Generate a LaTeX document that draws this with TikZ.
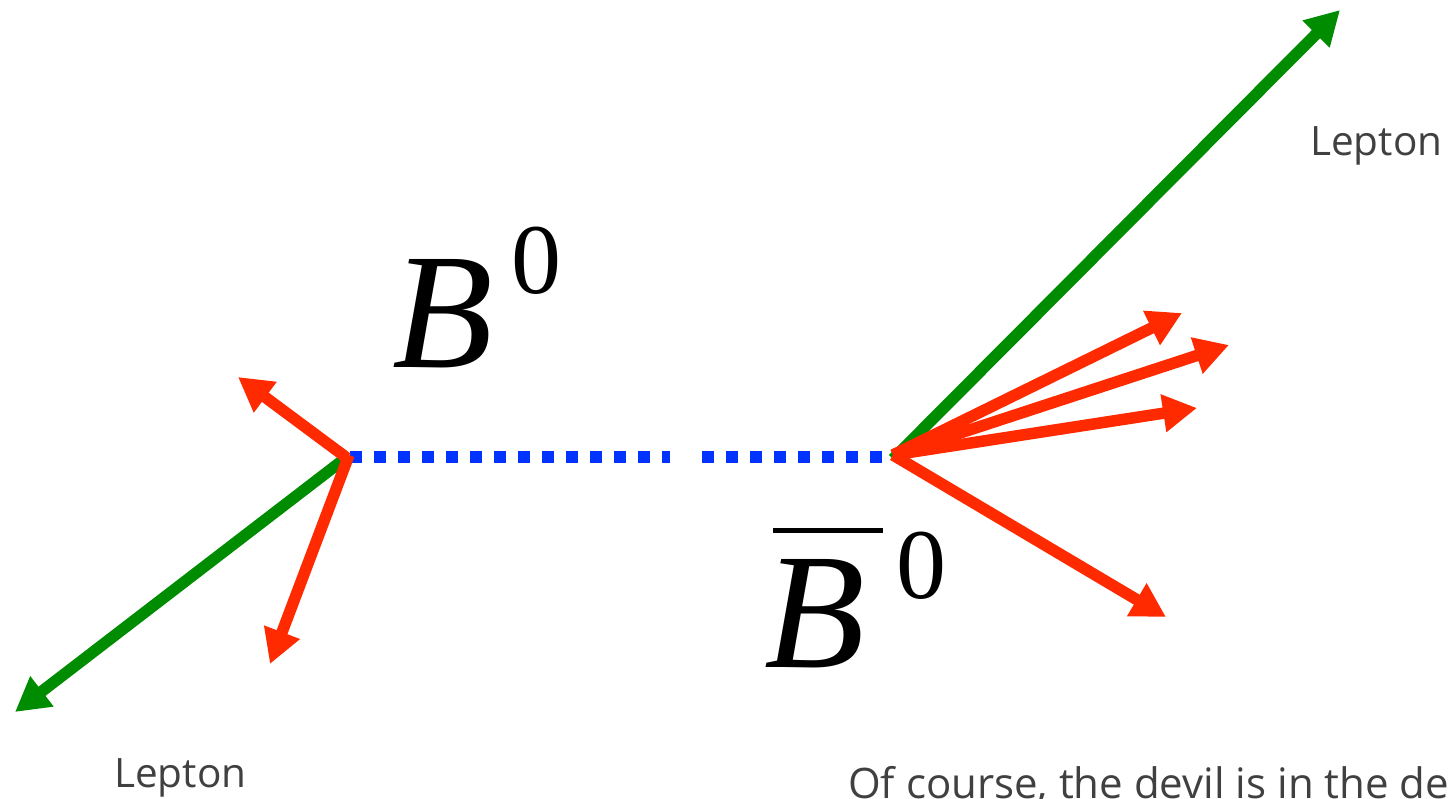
\documentclass[tikz,border=0pt]{standalone}
\usepackage{fontspec}
\usetikzlibrary{arrows.meta}
\setmainfont{Open Sans}
\newfontfamily\serifit{Liberation Serif}[UprightFont=* Italic]
\newfontfamily\serifup{Liberation Serif}
\definecolor{grn}{RGB}{0,140,0}
\definecolor{rd}{RGB}{255,42,0}
\definecolor{bl}{RGB}{0,51,255}
\definecolor{txt}{RGB}{64,64,64}
\tikzset{
  grnarrow/.style={draw=grn, line width=11.5pt, -{Triangle[length=34pt,width=36pt]}, grn},
  rdarrow/.style={draw=rd, line width=11.5pt, -{Triangle[length=34pt,width=36pt]}, rd},
  dotline/.style={draw=bl, line width=12pt, dash pattern=on 12pt off 12pt},
  lbl/.style={inner sep=0pt, anchor=base west, text=txt, font=\fontsize{40.5}{40.5}\selectfont},
  note/.style={inner sep=0pt, anchor=base west, text=txt, font=\fontsize{42}{42}\selectfont},
  bsym/.style={inner sep=0pt, anchor=base west, text=black}
}
\begin{document}
\begin{tikzpicture}[x=1pt,y=-1pt]
\useasboundingbox (0,0) rectangle (1450,799);
% vertices
\coordinate (L) at (347,457);
\coordinate (R) at (893,457);
% dotted line ends
\coordinate (d1a) at (350,457);
\coordinate (d1b) at (670,457);
\coordinate (d2a) at (702,457);
\coordinate (d2b) at (882,457);
% tips
\coordinate (gl) at (15,712);
\coordinate (gr) at (1340,10);
\coordinate (lu) at (238,377);
\coordinate (ld) at (270,664);
\coordinate (r1) at (1182,313);
\coordinate (r2) at (1229,345);
\coordinate (r3) at (1197,408);
\coordinate (r4) at (1166,617);
% dotted B line
\draw[dotline] (d1a) -- (d1b);
\draw[dotline] (d2a) -- (d2b);
% leptons
\draw[grnarrow] (L) -- (gl);
\draw[grnarrow] ([yshift=-2pt]R) -- (gr);
% hadrons
\draw[rdarrow] ([yshift=-1pt]L) -- (lu);
\draw[rdarrow] ([xshift=2pt,yshift=2pt]L) -- (ld);
\draw[rdarrow] ([yshift=2pt]R) -- (r1);
\draw[rdarrow] ([yshift=2pt]R) -- (r2);
\draw[rdarrow] ([yshift=2pt]R) -- (r3);
\draw[rdarrow] ([yshift=2pt]R) -- (r4);
% labels
\node[bsym] (b0) at (392,367) {\fontsize{165}{165}\serifit B\kern19pt\raisebox{74pt}{\fontsize{100}{100}\serifup 0}};
\node[bsym] (bb0) at (764,667) {\fontsize{165}{165}\serifit B\kern31pt\raisebox{69pt}{\fontsize{100}{100}\serifup 0}};
\draw[line width=5pt] (773,530.5) -- (883,530.5);
\node[lbl] (lepR) at (1310,156) {Lepton};
\node[lbl] (lepL) at (114,787) {Lepton};
\node[note] (devil) at (848,798) {Of course, the devil is in the de};
\end{tikzpicture}
\end{document}
